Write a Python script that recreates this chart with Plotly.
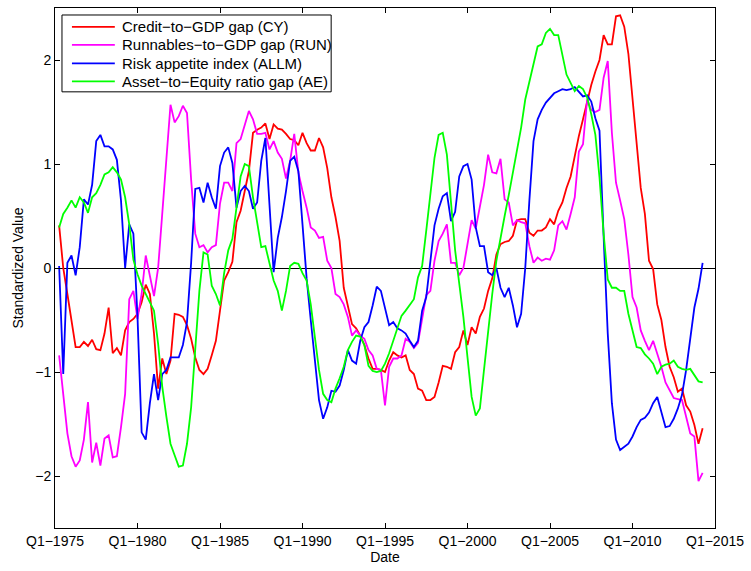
import plotly.graph_objects as go
import pandas as pd

# Quarterly observations 1975Q2 .. 2014Q2
quarters = pd.period_range("1975Q2", "2014Q2", freq="Q")
x_vals = [p.year + (p.quarter - 1) / 4 for p in quarters]

credit_gap = [
    0.41, 0.00, -0.25, -0.50, -0.76, -0.76, -0.71, -0.75, -0.69, -0.78,
    -0.79, -0.63, -0.38, -0.82, -0.77, -0.84, -0.60, -0.52, -0.49, -0.44,
    -0.33, -0.16, -0.25, -0.63, -1.16, -0.87, -1.02, -0.89, -0.44, -0.45,
    -0.47, -0.55, -0.68, -0.86, -0.98, -1.02, -0.97, -0.84, -0.70, -0.41,
    -0.12, -0.04, 0.06, 0.44, 0.55, 0.74, 0.93, 1.30, 1.33, 1.35,
    1.39, 1.24, 1.38, 1.34, 1.33, 1.29, 1.24, 1.23, 1.18, 1.30,
    1.20, 1.13, 1.13, 1.25, 1.16, 0.96, 0.68, 0.49, 0.26, -0.19,
    -0.38, -0.54, -0.58, -0.65, -0.74, -0.87, -0.97, -0.97, -0.98, -1.00,
    -0.89, -0.81, -0.84, -0.86, -0.84, -0.98, -1.02, -1.16, -1.18, -1.27,
    -1.27, -1.24, -1.10, -0.94, -0.95, -0.97, -0.81, -0.76, -0.60, -0.74,
    -0.57, -0.63, -0.47, -0.39, -0.22, -0.10, 0.13, 0.23, 0.25, 0.26,
    0.31, 0.46, 0.47, 0.47, 0.34, 0.31, 0.36, 0.36, 0.39, 0.47,
    0.42, 0.55, 0.63, 0.77, 0.88, 1.09, 1.27, 1.43, 1.59, 1.76,
    1.89, 2.00, 2.24, 2.15, 2.15, 2.42, 2.43, 2.32, 2.06, 1.62,
    1.25, 0.77, 0.52, 0.07, -0.01, -0.35, -0.50, -0.76, -0.95, -1.05,
    -1.19, -1.16, -1.32, -1.38, -1.51, -1.69, -1.54,
]

runnables_gap = [
    -0.84, -1.21, -1.59, -1.81, -1.91, -1.85, -1.65, -1.29, -1.87, -1.68,
    -1.90, -1.64, -1.61, -1.82, -1.81, -1.53, -1.21, -0.30, -0.22, -0.49,
    -0.25, 0.12, -0.07, -0.27, 0.00, 0.50, 1.05, 1.57, 1.40, 1.46,
    1.56, 1.49, 0.85, 0.33, 0.20, 0.22, 0.15, 0.20, 0.22, 0.62,
    0.82, 0.82, 0.74, 1.20, 1.24, 1.38, 1.51, 1.43, 1.29, 1.29,
    1.30, 1.14, 1.22, 1.11, 1.05, 0.86, 1.03, 1.29, 0.92, 0.74,
    0.58, 0.39, 0.36, 0.29, 0.30, 0.07, 0.00, -0.25, -0.28, -0.35,
    -0.47, -0.65, -0.60, -0.65, -0.68, -0.79, -0.84, -0.97, -0.98, -1.32,
    -0.95, -0.87, -0.87, -0.84, -0.68, -0.71, -0.77, -0.72, -0.50, -0.26,
    -0.22, 0.07, 0.26, 0.33, 0.42, 0.05, 0.05, -0.07, 0.00, 0.23,
    0.46, 0.38, 0.58, 0.80, 1.09, 0.92, 0.91, 1.05, 0.66, 0.63,
    0.41, 0.46, 0.44, 0.43, 0.21, 0.05, 0.10, 0.07, 0.09, 0.08,
    0.17, 0.41, 0.45, 0.37, 0.52, 0.68, 1.12, 1.19, 1.62, 1.52,
    1.50, 1.52, 1.83, 1.99, 1.30, 0.82, 0.65, 0.47, 0.13, -0.28,
    -0.38, -0.60, -0.70, -0.79, -0.70, -0.82, -0.95, -1.10, -1.18, -1.25,
    -1.26, -1.27, -1.43, -1.59, -1.62, -2.05, -1.97,
]

risk_appetite = [
    0.02, -1.02, 0.05, 0.12, -0.07, 0.20, 0.66, 0.61, 0.80, 1.22,
    1.28, 1.17, 1.17, 1.14, 1.04, 0.65, 0.00, 0.42, 0.33, -0.47,
    -1.58, -1.65, -1.30, -1.02, -1.27, -1.02, -0.98, -0.86, -0.86, -0.86,
    -0.74, -0.52, 0.05, 0.76, 0.77, 0.63, 0.82, 0.68, 0.57, 0.98,
    1.11, 1.16, 1.01, 0.58, 0.74, 0.79, 0.74, 0.57, 0.63, 1.03,
    1.25, 0.60, -0.04, 0.29, 0.49, 0.74, 1.03, 1.07, 0.93, 0.42,
    -0.10, -0.50, -0.89, -1.27, -1.45, -1.34, -1.18, -1.19, -1.13, -0.98,
    -0.79, -0.89, -0.92, -0.70, -0.57, -0.52, -0.36, -0.18, -0.22, -0.38,
    -0.55, -0.52, -0.58, -0.60, -0.63, -0.70, -0.76, -0.70, -0.41, -0.28,
    0.07, 0.41, 0.57, 0.69, 0.72, 0.45, 0.54, 0.88, 0.98, 1.00,
    0.85, 0.39, 0.21, 0.21, -0.04, -0.07, 0.00, -0.19, -0.28, -0.19,
    -0.36, -0.57, -0.44, 0.00, 0.65, 1.22, 1.43, 1.52, 1.59, 1.64,
    1.68, 1.70, 1.72, 1.71, 1.72, 1.74, 1.69, 1.65, 1.66, 1.60,
    1.44, 1.32, 0.30, -0.63, -1.30, -1.65, -1.75, -1.72, -1.69, -1.62,
    -1.53, -1.46, -1.44, -1.39, -1.30, -1.24, -1.38, -1.53, -1.52, -1.45,
    -1.35, -1.22, -0.98, -0.66, -0.38, -0.20, 0.05,
]

asset_equity_gap = [
    0.39, 0.52, 0.58, 0.65, 0.58, 0.68, 0.63, 0.53, 0.68, 0.72,
    0.80, 0.90, 0.92, 0.97, 0.92, 0.85, 0.68, 0.42, 0.08, -0.06,
    -0.17, -0.25, -0.33, -0.41, -0.73, -1.14, -1.43, -1.69, -1.80, -1.91,
    -1.90, -1.69, -1.34, -0.79, -0.22, 0.15, 0.13, -0.17, -0.25, -0.36,
    -0.05, 0.17, 0.28, 0.58, 0.88, 1.00, 0.98, 0.68, 0.42, 0.20,
    0.21, 0.04, -0.12, -0.22, -0.41, -0.22, 0.02, 0.05, 0.04, -0.05,
    -0.12, -0.35, -0.66, -0.98, -1.21, -1.27, -1.29, -1.16, -1.06, -0.95,
    -0.79, -0.71, -0.65, -0.66, -0.74, -0.94, -0.99, -1.00, -0.99, -0.92,
    -0.82, -0.70, -0.57, -0.46, -0.41, -0.36, -0.30, -0.09, 0.02, 0.36,
    0.71, 1.06, 1.28, 1.30, 1.09, 0.61, 0.17, -0.15, -0.47, -0.86,
    -1.24, -1.42, -1.35, -0.98, -0.60, -0.25, 0.07, 0.30, 0.50, 0.70,
    0.92, 1.12, 1.35, 1.62, 1.80, 1.97, 2.13, 2.15, 2.26, 2.30,
    2.24, 2.24, 2.05, 1.86, 1.78, 1.70, 1.75, 1.72, 1.64, 1.48,
    1.28, 0.87, 0.33, -0.11, -0.19, -0.19, -0.22, -0.22, -0.44, -0.60,
    -0.76, -0.77, -0.83, -0.87, -0.92, -1.02, -0.95, -0.93, -0.92, -0.89,
    -0.95, -0.97, -0.98, -0.97, -1.03, -1.09, -1.10,
]

series_names = [
    "Credit\u2212to\u2212GDP gap (CY)",
    "Runnables\u2212to\u2212GDP gap (RUN)",
    "Risk appetite index (ALLM)",
    "Asset\u2212to\u2212Equity ratio gap (AE)",
]
series_colors = ["#ff0000", "#ff00ff", "#0000ff", "#00ff00"]
series_values = [credit_gap, runnables_gap, risk_appetite, asset_equity_gap]

tick_years = [1975, 1980, 1985, 1990, 1995, 2000, 2005, 2010, 2015]
tick_labels = [f"Q1\u2212{y}" for y in tick_years]
y_ticks = [-2, -1, 0, 1, 2]

FONT = "Liberation Sans, Arial, Helvetica, sans-serif"

W, H = 751, 571
ML, MR, MT, MB = 55, 34, 7, 43
PW, PH = W - ML - MR, H - MT - MB


def px_x(px):
    return (px - ML) / PW


def px_y(py):
    return 1 - (py - MT) / PH


fig = go.Figure()
for name, color, vals in zip(series_names, series_colors, series_values):
    fig.add_trace(go.Scatter(
        x=x_vals, y=vals, mode="lines", name=name,
        line=dict(color=color, width=1.8),
    ))

axis_common = dict(
    showline=True, linecolor="black", linewidth=1, mirror="allticks",
    ticks="inside", ticklen=5, tickcolor="black", tickwidth=1,
    showgrid=False,
    tickfont=dict(family=FONT, size=14, color="black"),
)

fig.update_xaxes(
    range=[1975, 2015], tickvals=tick_years, ticktext=tick_labels,
    zeroline=False,
    title=dict(text="Date", font=dict(family=FONT, size=14, color="black"), standoff=2),
    **axis_common,
)
fig.update_yaxes(
    range=[-2.5, 2.5], tickvals=y_ticks,
    zeroline=True, zerolinecolor="black", zerolinewidth=1,
    title=dict(text="Standardized Value", font=dict(family=FONT, size=14, color="black"), standoff=8),
    **axis_common,
)

# Legend drawn as a boxed key (MATLAB style)
shapes = [dict(
    type="rect", xref="paper", yref="paper",
    x0=px_x(62), x1=px_x(332), y0=px_y(91), y1=px_y(14),
    line=dict(color="black", width=1), fillcolor="white", layer="above",
)]
annotations = []
row_y = [26, 44, 62.5, 80.5]
for name, color, ry in zip(series_names, series_colors, row_y):
    shapes.append(dict(
        type="line", xref="paper", yref="paper",
        x0=px_x(72), x1=px_x(115), y0=px_y(ry), y1=px_y(ry),
        line=dict(color=color, width=1.8), layer="above",
    ))
    annotations.append(dict(
        xref="paper", yref="paper", x=px_x(120), y=px_y(ry),
        xanchor="left", yanchor="middle", showarrow=False,
        text=name, font=dict(family=FONT, size=15, color="black"),
    ))

fig.update_layout(
    width=W, height=H,
    margin=dict(l=ML, r=MR, t=MT, b=MB),
    paper_bgcolor="white", plot_bgcolor="white",
    font=dict(family=FONT, size=14, color="black"),
    showlegend=False,
    shapes=shapes,
    annotations=annotations,
)

fig.write_html("out.html")
